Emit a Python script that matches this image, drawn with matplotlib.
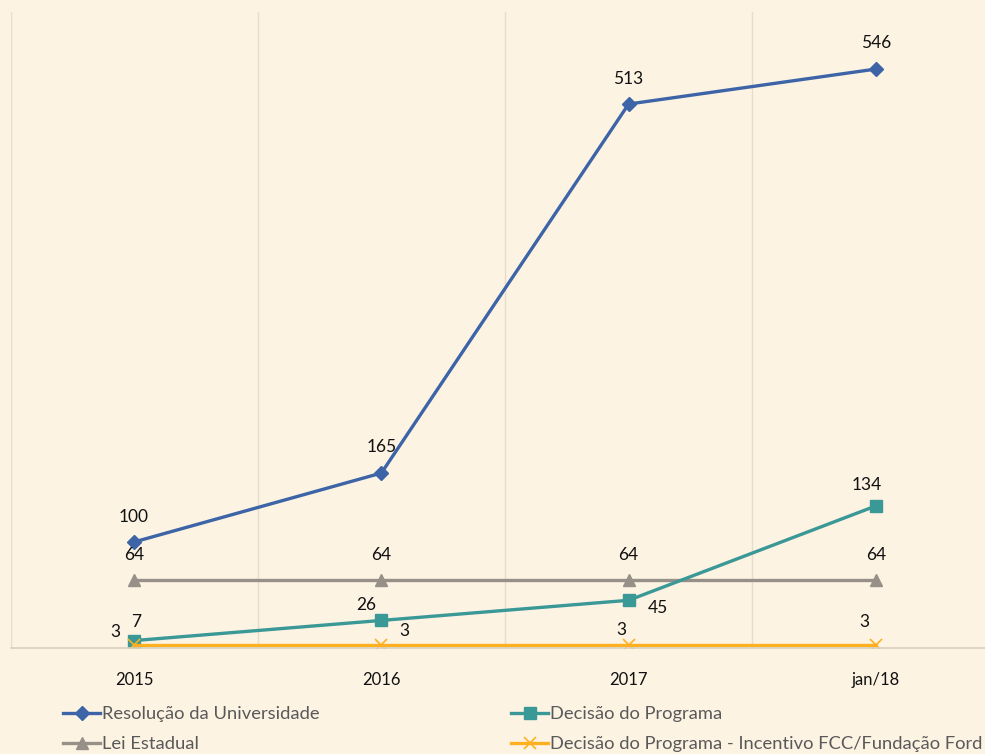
import numpy as np
import matplotlib.pyplot as plt

categories = ['2015', '2016', '2017', 'jan/18']
resolucao = [100, 165, 513, 546]
lei = [64, 64, 64, 64]
decisao = [7, 26, 45, 134]
decisao_ford = [3, 3, 3, 3]

bg = '#FDF3E3'
plt.rcParams['font.family'] = ['Lato', 'DejaVu Sans']

fig = plt.figure(figsize=[9.85, 7.54], dpi=100, facecolor=bg)
ax = fig.add_axes([10.5 / 985, 106 / 754, 989 / 985, 636.2 / 754])
ax.set_facecolor(bg)

x = np.arange(len(categories))

l1, = ax.plot(x, resolucao, color='#3C64A6', lw=2.4, marker='D', ms=7, label='Resolução da Universidade')
l2, = ax.plot(x, lei, color='#979088', lw=2.4, marker='^', ms=9, label='Lei Estadual')
l3, = ax.plot(x, decisao, color='#3A9896', lw=2.4, marker='s', ms=9, label='Decisão do Programa')
l4, = ax.plot(x, decisao_ford, color='#FFB020', lw=2.4, marker='x', ms=9, mew=1.2,
              label='Decisão do Programa - Incentivo FCC/Fundação Ford')

# label offsets in pixels
off_res = [(0, 25), (0, 26), (0, 25), (0, 26)]
off_lei = [(0, 25), (0, 25), (0, 25), (0, 25)]
off_dec = [(2, 19), (-15, 15), (29, -8), (-9, 21)]
off_ford = [(-19, 13), (23, 14), (-7, 15), (-12, 23)]

for vals, offs in [(resolucao, off_res), (lei, off_lei), (decisao, off_dec), (decisao_ford, off_ford)]:
    for xi, v, o in zip(x, vals, offs):
        ax.annotate(str(v), (xi, v), xytext=o, textcoords='offset pixels',
                    ha='center', va='center', fontsize=12.5, color='#111111')

ax.set_xlim(-0.5, 3.5)
ax.set_ylim(0, 600)
ax.set_xticks(x)
ax.set_xticklabels(categories, fontsize=12, color='#111111')
ax.set_xticks(np.arange(-0.5, 4, 1), minor=True)
ax.tick_params(axis='x', which='both', length=0, pad=17)
ax.set_yticks([])
ax.grid(axis='x', which='minor', color='#E6DDCD', lw=1)
for s in ['top', 'right', 'left']:
    ax.spines[s].set_visible(False)
ax.spines['bottom'].set_color('#D8CFBF')
ax.spines['bottom'].set_linewidth(1.2)

leg1 = fig.legend(handles=[l1, l2], loc='upper left', bbox_to_anchor=(54 / 985, 1 - 697 / 754),
                  frameon=False, fontsize=13.2, handlelength=2.0, handletextpad=0.1,
                  labelspacing=0.75, labelcolor='#595959', borderpad=0)
leg2 = fig.legend(handles=[l3, l4], loc='upper left', bbox_to_anchor=(502 / 985, 1 - 697 / 754),
                  frameon=False, fontsize=13.2, handlelength=2.0, handletextpad=0.1,
                  labelspacing=0.75, labelcolor='#595959', borderpad=0)

fig.savefig('out.png', dpi=100, facecolor=bg)
